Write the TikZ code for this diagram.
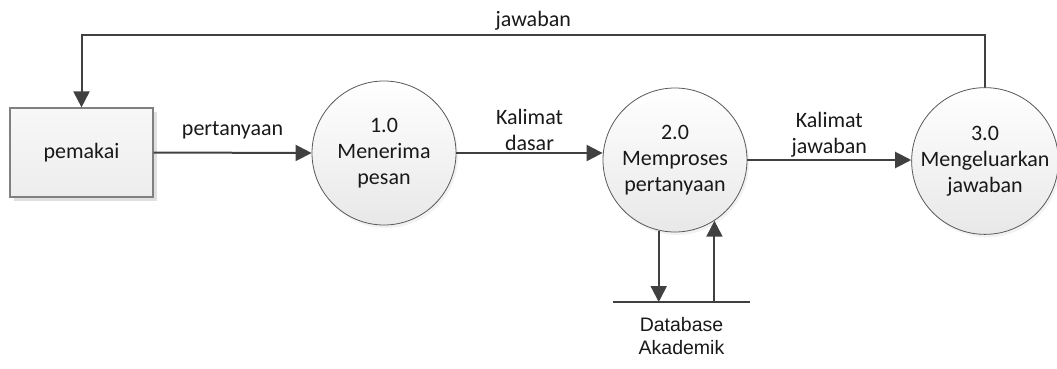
\documentclass[tikz,border=0pt]{standalone}
\usepackage{fontspec}
\setmainfont{Carlito}
\newfontfamily\arialfont{Liberation Sans}
\usepackage{xcolor}
\usepackage{tikz}
\usetikzlibrary{arrows.meta,positioning,shadows,calc}

\definecolor{linegray}{HTML}{404040}
\definecolor{edgegray}{HTML}{595959}

\begin{document}
\begin{tikzpicture}[
    x=1pt, y=-1pt,
    every node/.style={font=\fontsize{22}{26}\selectfont, text=black!90},
    process/.style={
        circle,
        draw=edgegray,
        line width=0.8pt,
        top color=white,
        bottom color=black!9,
        drop shadow={shadow xshift=2pt, shadow yshift=-3pt, fill=black!10},
        align=center,
        inner sep=0pt,
        minimum size=144pt
    },
    external/.style={
        draw=black!50,
        line width=1.2pt,
        top color=black!3,
        bottom color=black!7,
        drop shadow={shadow xshift=4pt, shadow yshift=-4pt, fill=black!12, opacity=1},
        minimum width=143pt,
        minimum height=89pt
    },
    flow/.style={
        -{Triangle[length=16pt,width=16pt]},
        line width=2pt,
        draw=linegray
    }
]
\useasboundingbox (0,0) rectangle (1057,369);

% ==========================================================
% EXTERNAL ENTITY
% ==========================================================

\node[external] (pemakai) at (81.5,152.5) {pemakai};

% ==========================================================
% PROCESSES
% ==========================================================

\node[process] (proc1) at (384,153) {1.0\\Menerima\\pesan};

\node[process] (proc2) at (675,160) {2.0\\Memproses\\pertanyaan};

\node[process] (proc3) at (985,161) {3.0\\Mengeluarkan\\jawaban};

% ==========================================================
% DATA STORE
% ==========================================================

\coordinate (dbL) at (613,302);
\coordinate (dbR) at (750,302);
\draw[line width=2pt, linegray] (dbL) -- (dbR);
\node[font=\arialfont\fontsize{19.5}{23}\selectfont, align=center, below=12pt of $(dbL)!0.5!(dbR)$] (db) {Database\\Akademik};

% ==========================================================
% DATA FLOWS
% ==========================================================

\draw[flow] (pemakai.east) -- node[above=9pt] {pertanyaan} (proc1.west);

\draw[flow] (proc1.east) -- node[above=-2pt, align=center] {Kalimat\\dasar} (proc2.west |- proc1.east);

\draw[flow] (proc2.east) -- node[above=-2pt, align=center] {Kalimat\\jawaban} (proc3.west |- proc2.east);

\coordinate (loop) at (81.5,35);
\draw[flow] (proc3.north) |- node[above, pos=0.75] {jawaban} (loop) -- (pemakai.north);

\draw[flow] (proc2.257) -- (proc2.257 |- dbL);
\draw[flow] (proc2.303 |- dbL) -- (proc2.303);

\end{tikzpicture}
\end{document}
